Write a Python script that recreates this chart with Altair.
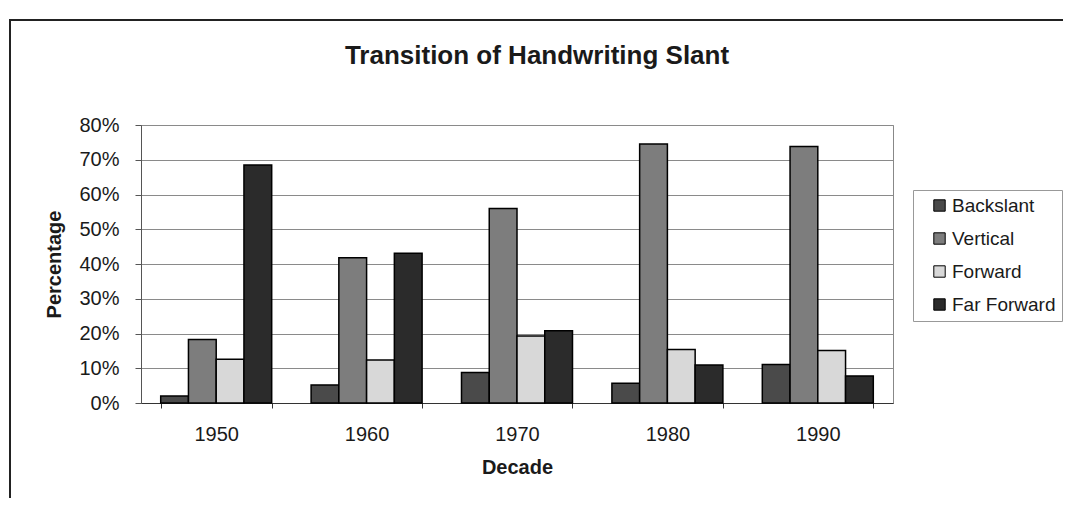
import altair as alt
import pandas as pd

decades = ["1950", "1960", "1970", "1980", "1990"]
series = ["Backslant", "Vertical", "Forward", "Far Forward"]
backslant = [0.020, 0.052, 0.088, 0.057, 0.111]
vertical = [0.183, 0.418, 0.560, 0.745, 0.738]
forward = [0.126, 0.124, 0.193, 0.154, 0.151]
far_forward = [0.685, 0.431, 0.208, 0.109, 0.078]
y_ticks = [0.0, 0.1, 0.2, 0.3, 0.4, 0.5, 0.6, 0.7, 0.8]
colors = ["#4a4a4a", "#7d7d7d", "#d8d8d8", "#2b2b2b"]

rows = []
for s, vals in zip(series, [backslant, vertical, forward, far_forward]):
    for d, v in zip(decades, vals):
        rows.append({"Decade": d, "Slant": s, "Percentage": v})
df = pd.DataFrame(rows)

FONT = "Liberation Sans"

bars = alt.Chart(df).mark_bar(stroke="black", strokeWidth=1.5).encode(
    x=alt.X(
        "Decade:N",
        sort=decades,
        scale=alt.Scale(paddingInner=0.262, paddingOuter=0.131),
        axis=alt.Axis(
            title="Decade",
            labelAngle=0,
            tickBand="extent",
            tickSize=5,
            labelPadding=16,
            labelFontSize=20,
            labelFont=FONT,
            labelColor="#1a1a1a",
            titleFont=FONT,
            titleFontSize=20,
            titleFontWeight="bold",
            titleColor="#1a1a1a",
            titleX=376,
            titleY=64,
            titleBaseline="middle",
            domainColor="#333",
            tickColor="#333",
            grid=False,
        ),
    ),
    xOffset=alt.XOffset("Slant:N", sort=series, scale=alt.Scale(paddingInner=0, paddingOuter=0)),
    y=alt.Y(
        "Percentage:Q",
        scale=alt.Scale(domain=[0, 0.8], nice=False),
        axis=alt.Axis(
            title="Percentage",
            values=y_ticks,
            format=".0%",
            tickSize=6,
            labelPadding=16,
            labelFontSize=20,
            labelFont=FONT,
            labelColor="#1a1a1a",
            titleFont=FONT,
            titleFontSize=20,
            titleFontWeight="bold",
            titleColor="#1a1a1a",
            titleAngle=270,
            titleX=-87,
            titleY=139,
            titleBaseline="middle",
            titleAlign="center",
            domainColor="#555",
            tickColor="#555",
            gridColor="#8a8a8a",
            gridWidth=1,
        ),
    ),
    color=alt.Color(
        "Slant:N",
        sort=series,
        scale=alt.Scale(domain=series, range=colors),
        legend=alt.Legend(
            title=None,
            orient="none",
            legendX=772,
            legendY=65,
            padding=6,
            symbolOffset=11,
            symbolType="square",
            symbolSize=130,
            symbolStrokeColor="black",
            symbolStrokeWidth=1,
            labelFont=FONT,
            labelFontSize=19,
            labelColor="#1a1a1a",
            labelOffset=3,
            rowPadding=13,
            strokeColor="#999",
        ),
    ),
)

frame = alt.Chart(alt.Data(values=[{}])).mark_rect(
    fill="transparent", stroke="#222", strokeWidth=2
).encode(
    x=alt.value(-131), x2=alt.value(960), y=alt.value(-105), y2=alt.value(400)
)

chart = alt.layer(frame, bars).properties(
    width=752,
    height=278,
    title=alt.TitleParams(
        "Transition of Handwriting Slant",
        font=FONT,
        fontSize=26,
        fontWeight="bold",
        color="#1a1a1a",
        anchor="middle",
        baseline="alphabetic",
        offset=0,
        dx=20,
        dy=71,
    ),
    autosize=alt.AutoSizeParams(type="none"),
    padding={"left": 133, "top": 117, "right": 170, "bottom": 95},
).configure_view(stroke="#888", strokeWidth=1)

chart.save("out.html", embed_options={"renderer": "svg", "actions": False})
